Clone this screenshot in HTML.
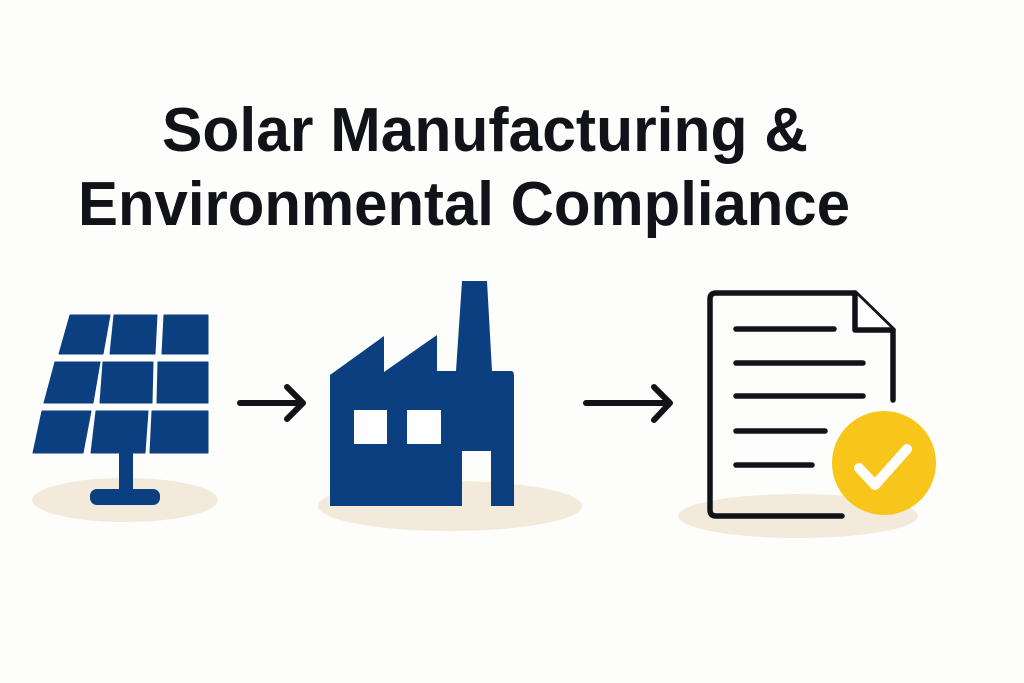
<!DOCTYPE html>
<html><head><meta charset="utf-8"><style>
html,body{margin:0;padding:0;background:#fdfdfc;}
svg{display:block;}
</style></head><body>
<svg width="1024" height="683" viewBox="0 0 1024 683" xmlns="http://www.w3.org/2000/svg">
<rect width="1024" height="683" fill="#fdfdfc"/>
<g font-family="Liberation Sans, sans-serif" font-weight="bold" font-size="62" fill="#111318">
<text x="162" y="151" textLength="646" lengthAdjust="spacingAndGlyphs">Solar Manufacturing &amp;</text>
<text x="78" y="225" textLength="772" lengthAdjust="spacingAndGlyphs">Environmental Compliance</text>
</g>
<!-- shadows -->
<ellipse cx="125" cy="500" rx="93" ry="22" fill="#f3eadb"/>
<ellipse cx="450" cy="506" rx="132" ry="25" fill="#f3eadb"/>
<ellipse cx="798" cy="516" rx="120" ry="22" fill="#f3eadb"/>
<!-- solar panel -->
<g fill="#0b3f80" stroke="#0b3f80" stroke-width="1" stroke-linejoin="round">
<polygon points="70,315 110,315 103,354 59,354"/>
<polygon points="114,315 157,315 155,354 110,354"/>
<polygon points="164,315 208,315 208,354 162,354"/>
<polygon points="55,362 100,362 93,403 44,403"/>
<polygon points="103,362 153,362 152,403 100,403"/>
<polygon points="158,362 208,362 208,403 157,403"/>
<polygon points="42,411 91,411 83,453 33,453"/>
<polygon points="96,411 148,411 145,453 91,453"/>
<polygon points="152,411 208,411 208,453 150,453"/>
</g>
<rect x="119" y="452" width="14" height="40" fill="#0b3f80"/>
<rect x="90" y="489" width="70" height="16" rx="7" fill="#0b3f80"/>
<!-- arrows -->
<g stroke="#111318" stroke-width="6" stroke-linecap="round" stroke-linejoin="round" fill="none">
<line x1="240" y1="403" x2="302" y2="403"/>
<polyline points="287,387 303,403 287,419"/>
<line x1="586" y1="403" x2="669" y2="403"/>
<polyline points="654,387 670,403 654,420"/>
</g>
<!-- factory -->
<path d="M330,375 L384,336 L384,372 L437,335 L437,371 L456,371 L462,281 L487,281 L492,371 L512,371 Q514,372 514,376 L514,506 L491,506 L491,451 L462,451 L462,506 L330,506 Z" fill="#0b3f80"/>
<rect x="354" y="410" width="33" height="34" fill="#fff"/>
<rect x="407" y="410" width="34" height="34" fill="#fff"/>
<!-- document -->
<g stroke="#111318" stroke-width="5.5" stroke-linecap="round" stroke-linejoin="round" fill="none">
<path d="M842,516 L716,516 Q710,516 710,510 L710,299 Q710,293 716,293 L855,293 L893,330 L893,400"/>
<polyline points="855,293 855,330 893,330" fill="#fff"/>
<line x1="736" y1="329" x2="834" y2="329"/>
<line x1="736" y1="363" x2="863" y2="363"/>
<line x1="736" y1="396" x2="863" y2="396"/>
<line x1="736" y1="431" x2="825" y2="431"/>
<line x1="736" y1="465" x2="812" y2="465"/>
</g>
<circle cx="884" cy="463" r="52" fill="#f8c51b"/>
<polyline points="859,468 875,485 907,449" fill="none" stroke="#fff" stroke-width="10" stroke-linecap="round" stroke-linejoin="round"/>
</svg>
</body></html>
